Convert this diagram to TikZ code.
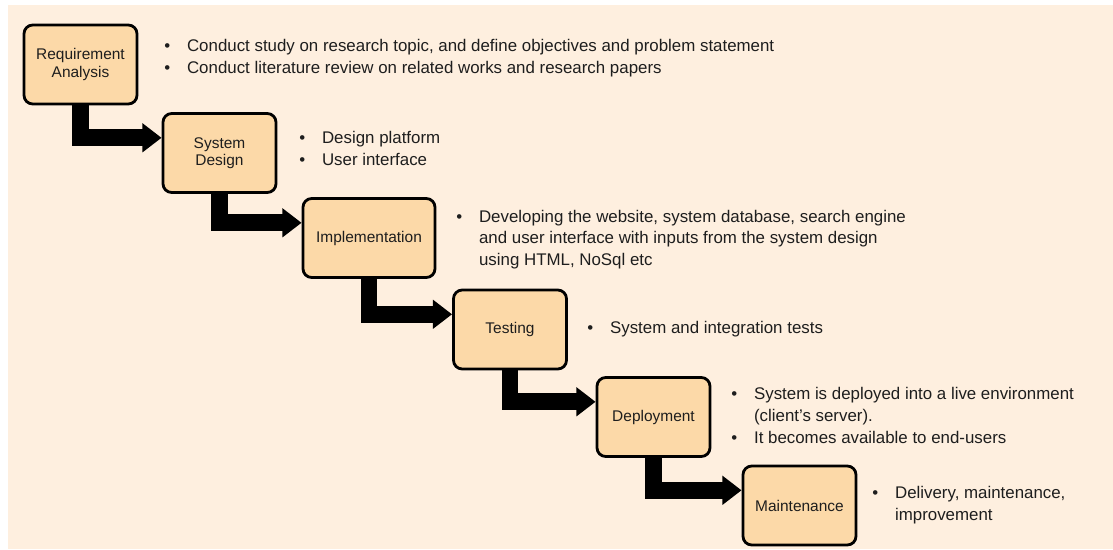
\documentclass[tikz,border=0pt]{standalone}
\usepackage{fontspec}
\setmainfont{Liberation Sans}
\usetikzlibrary{arrows.meta}

\definecolor{pagebg}{RGB}{254,239,223}
\definecolor{stagefill}{RGB}{252,217,168}
\definecolor{inktext}{RGB}{30,30,30}

\begin{document}
\begin{tikzpicture}[x=0.025cm, y=-0.025cm,
  stage/.style={draw=black, line width=2pt, rounded corners=0.22cm, fill=stagefill,
    minimum width=2.825cm, minimum height=1.975cm, align=center,
    font=\fontsize{11}{12.5}\selectfont, text=inktext},
  notes/.style={anchor=west, inner sep=0pt, font=\fontsize{12}{15.5}\selectfont, text=inktext},
  flow/.style={line width=0.42cm, -{Triangle[width=0.7cm, length=0.48cm]}}]

% Background
\useasboundingbox (0,0) rectangle (1113,549);
\fill[white] (0,0) rectangle (1113,549);
\fill[pagebg] (8,5) rectangle (1113,549);

% Stages
\node[stage] (req) at (80.5,64.5) {Requirement\\Analysis};
\node[stage] (des) at (219.5,153) {System\\Design};
\node[stage, minimum width=3.3cm] (imp) at (369,238) {Implementation};
\node[stage] (tst) at (510,329.5) {Testing};
\node[stage] (dep) at (653.5,417) {Deployment};
\node[stage] (mnt) at (799.5,505.5) {Maintenance};

% Flow arrows (down, then right)
\draw[flow] (req.south) |- ([yshift=0.38cm]des.west);
\draw[flow] (des.south) |- ([yshift=0.38cm]imp.west);
\draw[flow] (imp.south) |- ([yshift=0.38cm]tst.west);
\draw[flow] (tst.south) |- ([yshift=0.38cm]dep.west);
\draw[flow] (dep.south) |- ([yshift=0.38cm]mnt.west);

% Notes
\node[notes] (n1) at (164,58) {\begin{tabular}{@{}l@{\hspace{12pt}}l@{}}
  \textbullet & Conduct study on research topic, and define objectives and problem statement\\
  \textbullet & Conduct literature review on related works and research papers
\end{tabular}};
\node[notes] (n2) at (299,150) {\begin{tabular}{@{}l@{\hspace{12pt}}l@{}}
  \textbullet & Design platform\\
  \textbullet & User interface
\end{tabular}};
\node[notes] (n3) at (456,239.5) {\begin{tabular}{@{}l@{\hspace{12pt}}l@{}}
  \textbullet & Developing the website, system database, search engine\\
   & and user interface with inputs from the system design\\
   & using HTML, NoSql etc
\end{tabular}};
\node[notes] (n4) at (587,329) {\begin{tabular}{@{}l@{\hspace{12pt}}l@{}}
  \textbullet & System and integration tests
\end{tabular}};
\node[notes] (n5) at (731,417) {\begin{tabular}{@{}l@{\hspace{12pt}}l@{}}
  \textbullet & System is deployed into a live environment\\
   & (client’s server).\\
  \textbullet & It becomes available to end-users
\end{tabular}};
\node[notes] (n6) at (872,505) {\begin{tabular}{@{}l@{\hspace{12pt}}l@{}}
  \textbullet & Delivery, maintenance,\\
   & improvement
\end{tabular}};

\end{tikzpicture}
\end{document}
